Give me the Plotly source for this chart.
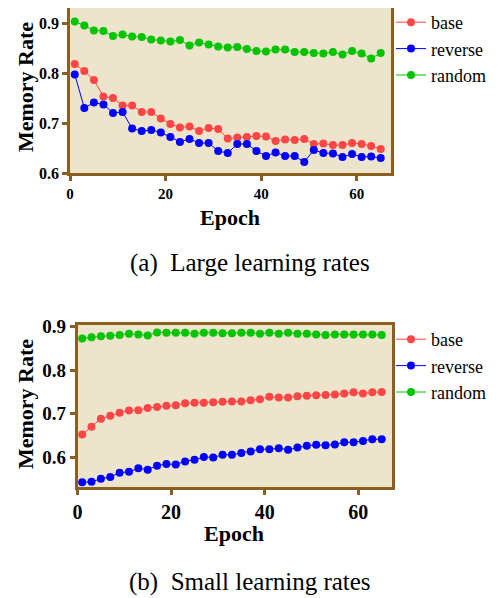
import plotly.graph_objects as go

epochs = list(range(1, 66, 2))

# (a) Large learning rates
large_base = [0.818, 0.804, 0.786, 0.753, 0.750, 0.735, 0.735, 0.722, 0.722, 0.709, 0.698,
              0.691, 0.693, 0.684, 0.690, 0.688, 0.669, 0.671, 0.672, 0.674, 0.673, 0.664,
              0.667, 0.666, 0.668, 0.658, 0.659, 0.656, 0.656, 0.660, 0.658, 0.654, 0.648]
large_reverse = [0.797, 0.730, 0.741, 0.737, 0.720, 0.722, 0.689, 0.684, 0.686, 0.681, 0.672,
                 0.662, 0.668, 0.660, 0.660, 0.644, 0.640, 0.658, 0.658, 0.644, 0.634, 0.641,
                 0.634, 0.634, 0.622, 0.646, 0.640, 0.639, 0.632, 0.638, 0.632, 0.633, 0.630]
large_random = [0.903, 0.895, 0.885, 0.884, 0.874, 0.877, 0.873, 0.872, 0.867, 0.865, 0.863,
                0.866, 0.855, 0.861, 0.857, 0.853, 0.851, 0.852, 0.848, 0.844, 0.843, 0.847,
                0.847, 0.842, 0.842, 0.840, 0.839, 0.842, 0.837, 0.844, 0.839, 0.829, 0.840]

# (b) Small learning rates
small_base = [0.652, 0.670, 0.688, 0.695, 0.702, 0.707, 0.708, 0.713, 0.715, 0.718, 0.719,
              0.724, 0.725, 0.725, 0.726, 0.727, 0.728, 0.728, 0.731, 0.733, 0.739, 0.737,
              0.737, 0.740, 0.741, 0.742, 0.743, 0.744, 0.746, 0.749, 0.746, 0.749, 0.750]
small_reverse = [0.542, 0.543, 0.550, 0.554, 0.564, 0.566, 0.574, 0.571, 0.580, 0.584, 0.583,
                 0.590, 0.594, 0.600, 0.599, 0.605, 0.605, 0.609, 0.613, 0.618, 0.618, 0.620,
                 0.617, 0.622, 0.626, 0.628, 0.627, 0.629, 0.634, 0.634, 0.637, 0.641, 0.641]
small_random = [0.873, 0.876, 0.878, 0.879, 0.881, 0.884, 0.882, 0.880, 0.887, 0.886, 0.886,
                0.886, 0.884, 0.886, 0.886, 0.885, 0.885, 0.886, 0.886, 0.884, 0.886, 0.884,
                0.886, 0.884, 0.884, 0.882, 0.881, 0.882, 0.882, 0.882, 0.882, 0.882, 0.881]

series_names = ["base", "reverse", "random"]
colors = ["#ff4646", "#0000ff", "#00c400"]
x_ticks = [0, 20, 40, 60]
y_ticks = [0.6, 0.7, 0.8, 0.9]

OFF = 8  # page body margin
W, H = 504 - OFF, 598 - OFF
FRAME = "#8b5f22"
BG = "#ede5cb"
SERIF = "Liberation Serif"

def px_x(p):
    return (p - OFF) / W

def px_y(p):
    return min(1.0, max(0.0, 1 - (p - OFF) / H))

def px_y_free(p):
    return 1 - (p - OFF) / H

fig = go.Figure()

for i, (name, vals) in enumerate(zip(series_names, [large_base, large_reverse, large_random])):
    fig.add_trace(go.Scatter(x=epochs, y=vals, mode="lines+markers", name=name,
                             line=dict(color=colors[i], width=1),
                             marker=dict(color=colors[i], size=8),
                             xaxis="x", yaxis="y", legend="legend"))
for i, (name, vals) in enumerate(zip(series_names, [small_base, small_reverse, small_random])):
    fig.add_trace(go.Scatter(x=epochs, y=vals, mode="lines+markers", name=name,
                             line=dict(color=colors[i], width=1),
                             marker=dict(color=colors[i], size=8),
                             xaxis="x2", yaxis="y2", legend="legend2"))

axis_common = dict(showline=True, mirror=True, linecolor=FRAME, linewidth=2.5,
                   ticks="outside", tickcolor=FRAME, tickwidth=2.5, ticklen=5,
                   showgrid=False, zeroline=False, automargin=False)

fig.update_layout(
    template="none",
    width=W, height=H,
    margin=dict(l=0, r=0, t=0, b=0, autoexpand=False),
    paper_bgcolor="white", plot_bgcolor=BG,
    font=dict(family=SERIF, color="black"),
    showlegend=True,
    xaxis=dict(domain=[px_x(70), px_x(391)], range=[0, 67.15], tickvals=x_ticks,
               anchor="y", tickfont=dict(size=15, family=SERIF, weight="bold"), **axis_common),
    yaxis=dict(domain=[px_y(173), px_y(8)], range=[0.6, 0.93], tickvals=y_ticks,
               tickformat=".1f", anchor="x",
               tickfont=dict(size=16, family=SERIF, weight="bold"), **axis_common),
    xaxis2=dict(domain=[px_x(77.5), px_x(392)], range=[0, 67.2], tickvals=x_ticks,
                anchor="y2", tickfont=dict(size=20, family=SERIF, weight="bold"), **axis_common),
    yaxis2=dict(domain=[px_y(487), px_y(325)], range=[0.531, 0.904], tickvals=y_ticks,
                tickformat=".1f", anchor="x2",
                tickfont=dict(size=19, family=SERIF, weight="bold"), **axis_common),
    legend=dict(x=px_x(391), y=px_y_free(4), xanchor="left", yanchor="top",
                font=dict(size=18, family=SERIF), bgcolor="rgba(0,0,0,0)",
                itemwidth=30, tracegroupgap=0),
    legend2=dict(x=px_x(391), y=px_y_free(321), xanchor="left", yanchor="top",
                 font=dict(size=18, family=SERIF), bgcolor="rgba(0,0,0,0)",
                 itemwidth=30, tracegroupgap=0),
)

annotations = [
    dict(text="Memory Rate", x=px_x(25), y=px_y(87), textangle=-90,
         font=dict(size=22, family=SERIF, weight="bold")),
    dict(text="Epoch", x=px_x(230), y=px_y(218),
         font=dict(size=22, family=SERIF, weight="bold")),
    dict(text="(a)  Large learning rates", x=px_x(250), y=px_y(263),
         font=dict(size=25, family=SERIF)),
    dict(text="Memory Rate", x=px_x(25), y=px_y(404), textangle=-90,
         font=dict(size=22, family=SERIF, weight="bold")),
    dict(text="Epoch", x=px_x(234), y=px_y(533),
         font=dict(size=22, family=SERIF, weight="bold")),
    dict(text="(b)  Small learning rates", x=px_x(250), y=px_y(582),
         font=dict(size=25, family=SERIF)),
]
for a in annotations:
    a.update(xref="paper", yref="paper", showarrow=False, xanchor="center", yanchor="middle")
fig.update_layout(annotations=annotations)

fig.write_html("out.html")
